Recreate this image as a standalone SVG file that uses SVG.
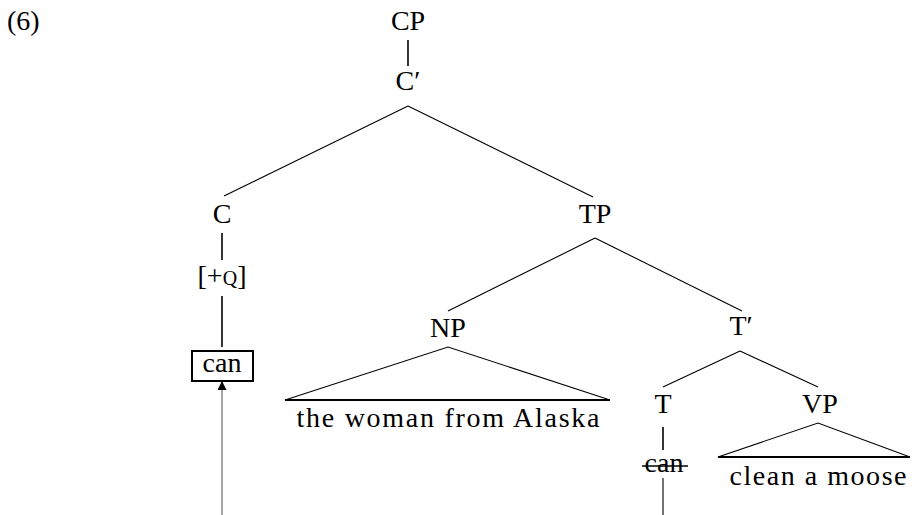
<svg xmlns="http://www.w3.org/2000/svg" width="912" height="515" viewBox="0 0 912 515">
<style>
.e{stroke:#000;stroke-width:1.1;fill:none}
.v{stroke:#000;stroke-width:1.6;fill:none}
.b{stroke:#000;stroke-width:2;fill:none}
</style>
<defs>
<marker id="ah" markerWidth="10" markerHeight="10" refX="9" refY="4.5" orient="auto" markerUnits="userSpaceOnUse">
<path d="M0,0 L9,4.5 L0,9 z" fill="#000"/>
</marker>
</defs>
<g font-family="Liberation Serif" font-size="28" text-anchor="middle" fill="#000">
<text x="7" y="30" text-anchor="start">(6)</text>
<g id="connectors">
<line class="v" x1="408" y1="40" x2="408" y2="66"/>
<line class="e" x1="408" y1="106" x2="224" y2="196"/>
<line class="e" x1="408" y1="106" x2="593" y2="197"/>
<line class="v" x1="222" y1="233" x2="222" y2="260"/>
<line class="v" x1="222" y1="296" x2="222" y2="347"/>
<line class="e" x1="595" y1="238" x2="448" y2="311"/>
<line class="e" x1="595" y1="238" x2="742" y2="311"/>
<line class="e" x1="740" y1="351" x2="663" y2="387"/>
<line class="e" x1="740" y1="351" x2="818" y2="387"/>
<line class="v" x1="663" y1="427" x2="663" y2="450"/>
<line class="e" x1="663" y1="478" x2="663" y2="515"/>
<line x1="222" y1="515" x2="222" y2="381" stroke="#777" stroke-width="1.3" marker-end="url(#ah)"/>
</g>
<g id="CP"><text x="408" y="30">CP</text></g>
<g id="Cbar"><text x="408" y="90">C′</text></g>
<g id="C"><text x="222" y="223">C</text></g>
<g id="Q"><text x="222" y="285">[+<tspan font-size="20">Q</tspan>]</text></g>
<g id="can-moved">
<rect x="192" y="351" width="61" height="30" fill="#fff" stroke="#000" stroke-width="2"/>
<text x="222" y="372">can</text>
</g>
<g id="TP"><text x="595" y="223">TP</text></g>
<g id="NP">
<text x="448" y="337">NP</text>
<path class="e" d="M285,400 L448,347 L610,400"/>
<line class="b" x1="285" y1="400" x2="610" y2="400"/>
<text x="448" y="427" textLength="303" lengthAdjust="spacing">the woman from Alaska</text>
</g>
<g id="Tbar"><text x="741" y="335">T′</text></g>
<g id="T"><text x="663" y="413">T</text></g>
<g id="can-trace">
<text x="664" y="472">can</text>
<line x1="642" y1="466" x2="688" y2="466" stroke="#000" stroke-width="1.3"/>
</g>
<g id="VP">
<text x="820" y="413">VP</text>
<path class="e" d="M718,457 L818,423 L910,457"/>
<line class="b" x1="718" y1="457" x2="910" y2="457"/>
<text x="818" y="485" textLength="177" lengthAdjust="spacing">clean a moose</text>
</g>
</g>
</svg>
